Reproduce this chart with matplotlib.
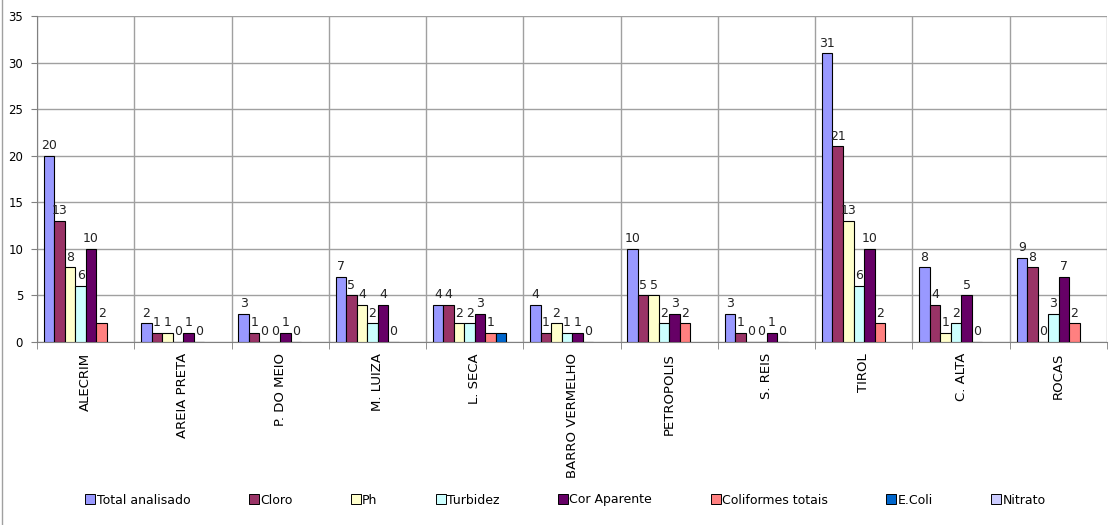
import numpy as np
import matplotlib
matplotlib.use('Agg')
import matplotlib.pyplot as plt
from matplotlib.lines import Line2D

bairros = ['ALECRIM', 'AREIA PRETA', 'P. DO MEIO', 'M. LUIZA', 'L. SECA',
           'BARRO VERMELHO', 'PETROPOLIS', 'S. REIS', 'TIROL', 'C. ALTA', 'ROCAS']

series_names = ['Total analisado', 'Cloro', 'Ph', 'Turbidez', 'Cor Aparente',
                'Coliformes totais', 'E.Coli', 'Nitrato']
series_colors = ['#9999FF', '#993366', '#FFFFCC', '#CCFFFF', '#660066',
                 '#FF8080', '#0066CC', '#CCCCFF']

total = [20, 2, 3, 7, 4, 4, 10, 3, 31, 8, 9]
cloro = [13, 1, 1, 5, 4, 1, 5, 1, 21, 4, 8]
ph = [8, 1, 0, 4, 2, 2, 5, 0, 13, 1, 0]
turbidez = [6, 0, 0, 2, 2, 1, 2, 0, 6, 2, 3]
cor_aparente = [10, 1, 1, 4, 3, 1, 3, 1, 10, 5, 7]
coliformes = [2, 0, 0, 0, 1, 0, 2, 0, 2, 0, 2]
ecoli = [np.nan, np.nan, np.nan, np.nan, 1, np.nan, np.nan, np.nan, np.nan, np.nan, np.nan]
nitrato = [np.nan] * 11

data = [total, cloro, ph, turbidez, cor_aparente, coliformes, ecoli, nitrato]
labelled = [True, True, True, True, True, True, False, False]

fig = plt.figure(figsize=(11.19, 5.25), dpi=100)
ax = fig.add_axes([37 / 1119, 1 - 342 / 525, (1107 - 37) / 1119, (342 - 16) / 525])

x = np.arange(len(bairros))
w = 0.108
start = -0.5 + 0.07

for i, (name, vals, col) in enumerate(zip(series_names, data, series_colors)):
    pos = x + start + w * (i + 0.5)
    vals = np.array(vals, dtype=float)
    ax.bar(pos, vals, width=w, color=col, edgecolor='black', linewidth=0.8,
           label=name, zorder=3)
    if labelled[i]:
        for p, v in zip(pos, vals):
            if not np.isnan(v):
                ax.text(p, v + 0.4, '%d' % v, ha='center', va='bottom',
                        fontsize=9, color='#222222', zorder=4)

ax.set_xlim(-0.5, len(bairros) - 0.5)
ax.set_ylim(0, 35)
ax.set_yticks(np.arange(0, 36, 5))
ax.set_xticks(x)
ax.set_xticklabels(bairros, rotation=90, fontsize=9.5, va='top')
ax.tick_params(axis='x', length=0, pad=8)
ax.set_xticks(np.arange(-0.5, len(bairros), 1), minor=True)
ax.tick_params(axis='x', which='minor', length=5, color='#808080')
ax.tick_params(axis='y', labelsize=8.5, length=4, pad=6, color='#808080')

ax.grid(True, axis='y', color='#a0a0a0', linewidth=1, zorder=0)
ax.grid(True, axis='x', which='minor', color='#a0a0a0', linewidth=1, zorder=0)
for s in ['top', 'right']:
    ax.spines[s].set_visible(False)
for s in ['left', 'bottom']:
    ax.spines[s].set_color('#808080')

handles = [Line2D([], [], marker='s', linestyle='none', markersize=7.5,
                  markerfacecolor=c, markeredgecolor='black', markeredgewidth=0.7)
           for c in series_colors]
fig.legend(handles, series_names, loc='center', ncol=8, frameon=False,
           bbox_to_anchor=(0.5054, 25 / 525), fontsize=9, handletextpad=0.1,
           columnspacing=4.68, handlelength=0.8)

fig.add_artist(Line2D([2 / 1119, 2 / 1119], [0, 1], color='#a0a0a0', linewidth=1))

fig.savefig('out.png', dpi=100)
